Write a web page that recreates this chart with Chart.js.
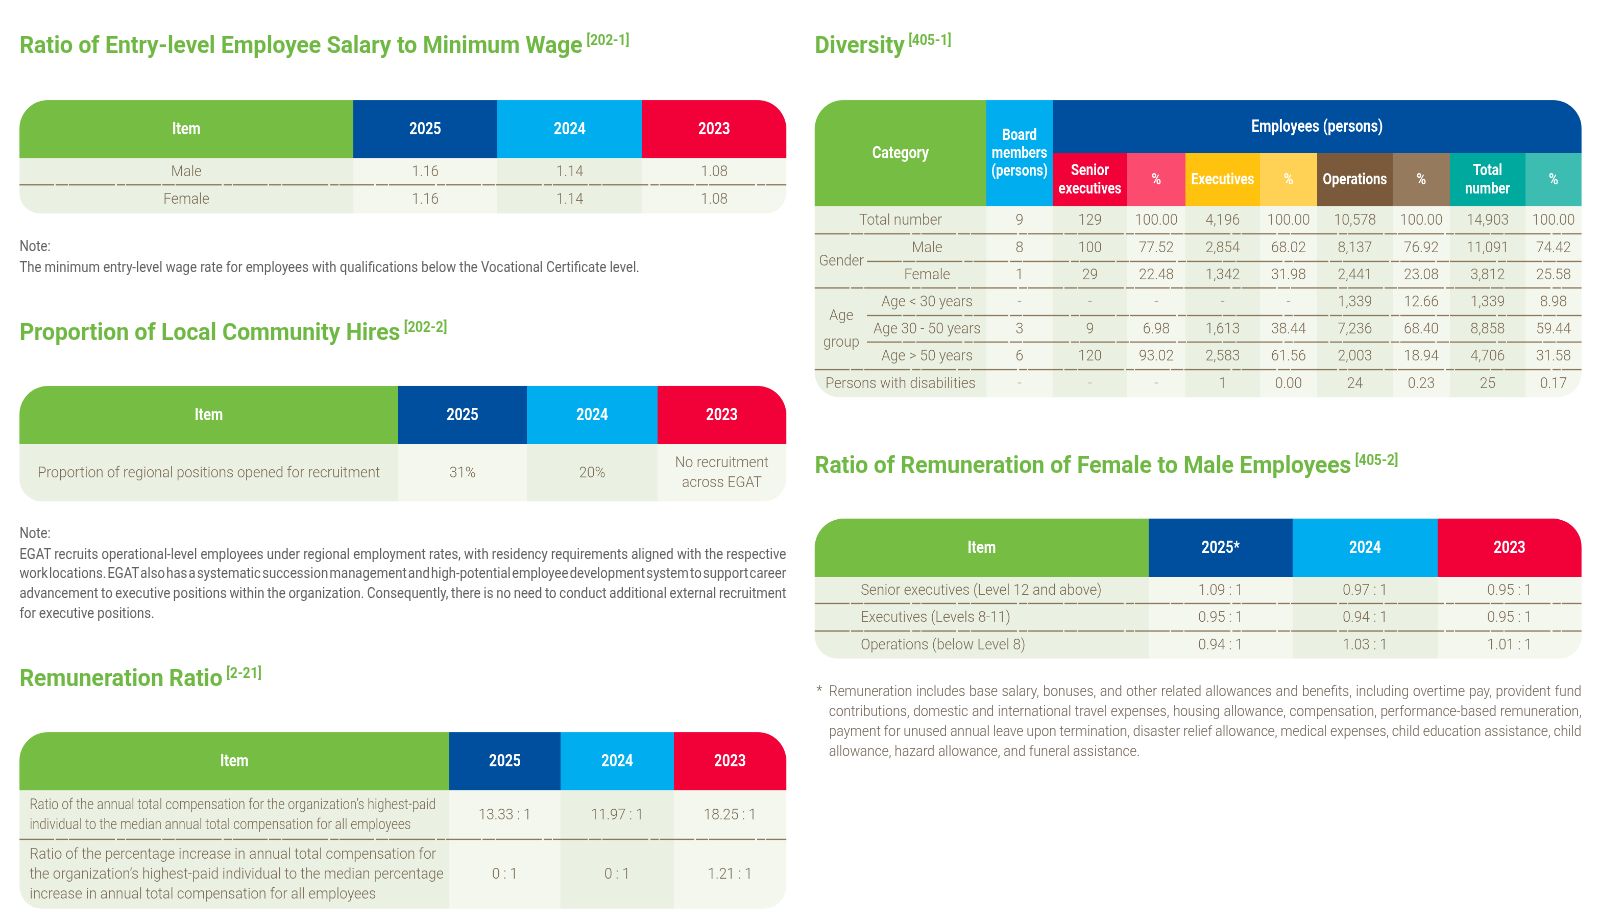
<!DOCTYPE html>
<html lang="en">
<head>
<meta charset="UTF-8">
<title>Employee Indicators</title>
<style>
    body {
        margin: 0;
        width: 1601px;
        height: 918px;
        position: relative;
        overflow: hidden;
        background: #fff;
        font-family: Roboto, 'Noto Sans', sans-serif;
    }
    /* page is laid out on a 1568 grid and scaled up to the window */
    #page {
        position: absolute;
        left: 0;
        top: 0;
        width: 1568px;
        height: 899px;
        transform: scale(1.02105);
        transform-origin: 0 0;
    }
    .title {
        position: absolute;
        font: 700 24px Roboto, sans-serif;
        line-height: 1;
        color: #70b844;
        white-space: nowrap;
        transform: scaleX(0.93);
        transform-origin: 0 0;
    }
    .title sup {
        font-size: 14px;
        vertical-align: top;
        position: relative;
        top: 0px;
        margin-left: 4px;
    }
    .note {
        position: absolute;
        font: 400 13.5px Roboto, sans-serif;
        line-height: 19.6px;
        color: #626262;
        transform: scaleX(0.95);
        transform-origin: 0 0;
    }
    .foot {
        position: absolute;
        font: 300 15px Roboto, sans-serif;
        line-height: 19.3px;
        color: #6e6152;
        transform: scaleX(0.88);
        transform-origin: 0 0;
    }
    .foot .star { position: absolute; left: -14px; top: 0; }
    .jl { display: inline-block; white-space: nowrap; }
    .tbl { position: absolute; }
</style>
<script src="https://cdn.jsdelivr.net/npm/chart.js@4.4.1/dist/chart.umd.min.js"></script>
</head>
<body>
<div id="page">

<div class="title" style="left:19px;top:32px">Ratio of Entry-level Employee Salary to Minimum Wage<sup>[202-1]</sup></div>
<div class="tbl" style="left:19px;top:98px;width:751px;height:111px"><canvas id="wageTable"></canvas></div>
<div class="note" style="left:19px;top:232px;width:790px">Note:<br>The minimum entry-level wage rate for employees with qualifications below the Vocational Certificate level.</div>

<div class="title" style="left:19px;top:313px">Proportion of Local Community Hires<sup>[202-2]</sup></div>
<div class="tbl" style="left:19px;top:378px;width:751px;height:113px"><canvas id="hireTable"></canvas></div>
<div class="note" style="left:19px;top:513px;width:790.5px">Note:<br><span class="jl">EGAT recruits operational-level employees under regional employment rates, with residency requirements aligned with the respective</span><br><span class="jl">work locations. EGAT also has a systematic succession management and high-potential employee development system to support career</span><br><span class="jl">advancement to executive positions within the organization. Consequently, there is no need to conduct additional external recruitment</span><br>for executive positions.</div>

<div class="title" style="left:19px;top:652px">Remuneration Ratio<sup>[2-21]</sup></div>
<div class="tbl" style="left:19px;top:717px;width:751px;height:173px"><canvas id="payTable"></canvas></div>

<div class="title" style="left:798px;top:32px">Diversity<sup>[405-1]</sup></div>
<div class="tbl" style="left:798px;top:98px;width:751px;height:291px"><canvas id="diversityTable"></canvas></div>

<div class="title" style="left:798px;top:443px">Ratio of Remuneration of Female to Male Employees<sup>[405-2]</sup></div>
<div class="tbl" style="left:798px;top:508px;width:751px;height:137px"><canvas id="genderPayTable"></canvas></div>
<div class="foot" style="left:812px;top:668px;width:837.5px"><span class="star">*</span><span class="jl">Remuneration includes base salary, bonuses, and other related allowances and benefits, including overtime pay, provident fund</span><br><span class="jl">contributions, domestic and international travel expenses, housing allowance, compensation, performance-based remuneration,</span><br><span class="jl">payment for unused annual leave upon termination, disaster relief allowance, medical expenses, child education assistance, child</span><br>allowance, hazard allowance, and funeral assistance.</div>

</div>

<script>
// ---- data ----
const years = ['2025', '2024', '2023'];

// [202-1] entry-level salary / minimum wage
const wageItems = ['Male', 'Female'];
const wage2025 = [1.16, 1.16];
const wage2024 = [1.14, 1.14];
const wage2023 = [1.08, 1.08];

// [202-2] local community hires
const hireItems = ['Proportion of regional positions opened for recruitment'];
const hire2025 = ['31%'];
const hire2024 = ['20%'];
const hire2023 = ['No recruitment\nacross EGAT'];

// [2-21] remuneration ratio
const payItems = [
    'Ratio of the annual total compensation for the organization\u2019s highest-paid\nindividual to the median annual total compensation for all employees',
    'Ratio of the percentage increase in annual total compensation for\nthe organization\u2019s highest-paid individual to the median percentage\nincrease in annual total compensation for all employees'
];
const pay2025 = ['13.33 : 1', '0 : 1'];
const pay2024 = ['11.97 : 1', '0 : 1'];
const pay2023 = ['18.25 : 1', '1.21 : 1'];

// [405-1] diversity (null = "-")
const diversityRows = ['Total number', 'Male', 'Female', 'Age < 30 years', 'Age 30 - 50 years', 'Age > 50 years', 'Persons with disabilities'];
const boardMembers   = [9, 8, 1, null, 3, 6, null];
const seniorExec     = [129, 100, 29, null, 9, 120, null];
const seniorExecPct  = [100.00, 77.52, 22.48, null, 6.98, 93.02, null];
const executives     = [4196, 2854, 1342, null, 1613, 2583, 1];
const executivesPct  = [100.00, 68.02, 31.98, null, 38.44, 61.56, 0.00];
const operations     = [10578, 8137, 2441, 1339, 7236, 2003, 24];
const operationsPct  = [100.00, 76.92, 23.08, 12.66, 68.40, 18.94, 0.23];
const totalEmployees = [14903, 11091, 3812, 1339, 8858, 4706, 25];
const totalPct       = [100.00, 74.42, 25.58, 8.98, 59.44, 31.58, 0.17];

// [405-2] female to male remuneration
const genderPayItems = ['Senior executives (Level 12 and above)', 'Executives (Levels 8-11)', 'Operations (below Level 8)'];
const genderPay2025 = ['1.09 : 1', '0.95 : 1', '0.94 : 1'];
const genderPay2024 = ['0.97 : 1', '0.94 : 1', '1.03 : 1'];
const genderPay2023 = ['0.95 : 1', '0.95 : 1', '1.01 : 1'];

// ---- styling ----
const GREEN = '#75bd43', DBLUE = '#004f9f', LBLUE = '#00aeef', RED = '#f20038';
const BODY_DARK = '#eaf1e2', BODY_LIGHT = '#f3f7ee';
const INK = '#7d6c56', DASH_INK = '#aaa294';
const HEAD_FONT = '700 17px Roboto';
const BODY_FONT = '300 15px Roboto';

const fmtRatio = v => v.toFixed(2);
const fmtInt = v => v == null ? '-' : v.toLocaleString('en-US');
const fmtPct = v => v == null ? '-' : v.toFixed(2);

function drawText(ctx, str, x, y, font, color, align, squeeze) {
    ctx.save();
    ctx.font = font;
    ctx.fillStyle = color;
    ctx.textBaseline = 'middle';
    ctx.textAlign = align;
    ctx.translate(x, y);
    ctx.scale(squeeze, 1);
    ctx.fillText(str, 0, 0);
    ctx.restore();
}

// draws the cells of a table through the chart's x / y scales
function cellPlugin(spec) {
    return {
        id: 'tableCells',
        afterDraw(chart) {
            const ctx = chart.ctx;
            const X = i => chart.scales.x.getPixelForValue(spec.colEdges[i]);
            const Y = i => chart.scales.y.getPixelForValue(spec.rowEdges[i]);
            const nc = spec.colEdges.length - 1, nr = spec.rowEdges.length - 1;

            ctx.save();
            ctx.beginPath();
            ctx.roundRect(X(0), Y(0), X(nc) - X(0), Y(nr) - Y(0), spec.radii);
            ctx.clip();

            spec.cells.forEach(c => {
                const x0 = X(c.c[0]), x1 = X(c.c[1]), y0 = Y(c.r[0]), y1 = Y(c.r[1]);
                ctx.fillStyle = c.fill;
                ctx.fillRect(x0, y0, x1 - x0 + 0.6, y1 - y0 + 0.6);
            });

            ctx.strokeStyle = 'rgba(122, 98, 68, 0.85)';
            ctx.lineWidth = 1.3;
            ctx.setLineDash([34, 1.5, 12, 1, 45, 2, 8, 1]);
            spec.seps.forEach(s => {
                const y = Y(s.r);
                ctx.beginPath();
                ctx.moveTo(X(s.c[0]) + (s.dx || 0), y);
                ctx.lineTo(X(s.c[1]), y);
                ctx.stroke();
            });
            ctx.setLineDash([]);

            spec.cells.forEach(c => {
                if (c.text == null) return;
                const x0 = X(c.c[0]), x1 = X(c.c[1]), y0 = Y(c.r[0]), y1 = Y(c.r[1]);
                const lines = String(c.text).split('\n');
                const font = c.font || (c.head ? HEAD_FONT : BODY_FONT);
                const squeeze = c.squeeze || (c.head ? 0.8 : 0.93);
                const lh = c.lh || (c.head ? 18 : 19.5);
                const color = c.color || (c.head ? '#fff' : (c.text === '-' ? DASH_INK : INK));
                const align = c.align || 'center';
                const tx = align === 'left' ? x0 + c.pad : (x0 + x1) / 2;
                const cy = (y0 + y1) / 2 + 0.5;
                lines.forEach((ln, k) => {
                    drawText(ctx, ln, tx, cy + (k - (lines.length - 1) / 2) * lh, font, color, align, squeeze);
                });
            });
            ctx.restore();
        }
    };
}

function tableChart(id, spec) {
    const nc = spec.colEdges.length - 1, nr = spec.rowEdges.length - 1;
    return new Chart(document.getElementById(id), {
        type: 'scatter',
        data: { datasets: [] },
        options: {
            responsive: true,
            maintainAspectRatio: false,
            animation: false,
            devicePixelRatio: 2,
            events: [],
            layout: { padding: 0 },
            scales: {
                x: { type: 'linear', display: false, min: 0, max: spec.colEdges[nc] },
                y: { type: 'linear', display: false, reverse: true, min: 0, max: spec.rowEdges[nr] }
            },
            plugins: { legend: { display: false }, tooltip: { enabled: false } }
        },
        plugins: [cellPlugin(spec)]
    });
}

// Item | 2025 | 2024 | 2023 style tables
function yearTable(id, layout, items, series, heads) {
    const cells = [];
    const headFill = [GREEN, DBLUE, LBLUE, RED];
    ['Item'].concat(heads).forEach((h, i) => {
        cells.push({ c: [i, i + 1], r: [0, 1], fill: headFill[i], text: h, head: true });
    });
    items.forEach((it, j) => {
        cells.push({
            c: [0, 1], r: [j + 1, j + 2], fill: BODY_DARK, text: it,
            align: layout.itemAlign, pad: layout.pad,
            squeeze: layout.itemSqueeze ? layout.itemSqueeze[j] : undefined
        });
        series.forEach((s, i) => {
            cells.push({ c: [i + 1, i + 2], r: [j + 1, j + 2], fill: i % 2 ? BODY_DARK : BODY_LIGHT, text: s[j] });
        });
    });
    const seps = [];
    for (let j = 1; j < items.length; j++) seps.push({ r: j + 1, c: [0, 4] });
    return tableChart(id, {
        colEdges: layout.colEdges,
        rowEdges: layout.rowEdges,
        radii: layout.radii,
        cells, seps
    });
}

yearTable('wageTable',
    { colEdges: [0, 327, 468, 610, 751], rowEdges: [0, 57, 83, 111], radii: [28, 28, 20, 20], itemAlign: 'center' },
    wageItems, [wage2025.map(fmtRatio), wage2024.map(fmtRatio), wage2023.map(fmtRatio)], years);

yearTable('hireTable',
    { colEdges: [0, 371, 497, 625, 751], rowEdges: [0, 57, 113], radii: [28, 28, 22, 22], itemAlign: 'center' },
    hireItems, [hire2025, hire2024, hire2023], years);

yearTable('payTable',
    { colEdges: [0, 421, 530, 641, 751], rowEdges: [0, 57, 105, 173], radii: [28, 28, 22, 22], itemAlign: 'left', pad: 10, itemSqueeze: [0.83, 0.93] },
    payItems, [pay2025, pay2024, pay2023], years);

yearTable('genderPayTable',
    { colEdges: [0, 327, 468, 610, 751], rowEdges: [0, 57, 83, 110, 137], radii: [28, 28, 22, 22], itemAlign: 'left', pad: 45 },
    genderPayItems, [genderPay2025, genderPay2024, genderPay2023], ['2025*', '2024', '2023']);

// diversity table
(function () {
    const cells = [];
    const small = '700 16px Roboto';
    cells.push({ c: [0, 2], r: [0, 2], fill: GREEN, text: 'Category', head: true });
    cells.push({ c: [2, 3], r: [0, 2], fill: LBLUE, text: 'Board\nmembers\n(persons)', head: true, font: small, lh: 17.5 });
    cells.push({ c: [3, 11], r: [0, 1], fill: DBLUE, text: 'Employees (persons)', head: true });
    const subHeads = ['Senior\nexecutives', '%', 'Executives', '%', 'Operations', '%', 'Total\nnumber', '%'];
    const subFills = ['#f20038', '#fb4c70', '#ffc20e', '#ffd255', '#7a5a3a', '#967a5e', '#00a99d', '#3dbcb2'];
    subHeads.forEach((h, i) => {
        cells.push({ c: [i + 3, i + 4], r: [1, 2], fill: subFills[i], text: h, head: true, font: small, lh: 18 });
    });

    const series = [boardMembers.map(fmtInt), seniorExec.map(fmtInt), seniorExecPct.map(fmtPct),
        executives.map(fmtInt), executivesPct.map(fmtPct), operations.map(fmtInt), operationsPct.map(fmtPct),
        totalEmployees.map(fmtInt), totalPct.map(fmtPct)];

    // category column: group labels + row labels
    cells.push({ c: [0, 1], r: [3, 5], fill: BODY_DARK, text: 'Gender' });
    cells.push({ c: [0, 1], r: [5, 8], fill: BODY_DARK, text: 'Age\ngroup', lh: 26 });
    diversityRows.forEach((label, j) => {
        const r = [j + 2, j + 3];
        const full = (j === 0 || j === diversityRows.length - 1);
        cells.push({ c: full ? [0, 2] : [1, 2], r, fill: BODY_DARK, text: label });
        series.forEach((s, i) => {
            cells.push({ c: [i + 2, i + 3], r, fill: i % 2 ? BODY_DARK : BODY_LIGHT, text: s[j] });
        });
    });

    const seps = [
        { r: 3, c: [0, 11] }, { r: 4, c: [1, 11], dx: -1 }, { r: 5, c: [0, 11] },
        { r: 6, c: [1, 11], dx: -1 }, { r: 7, c: [1, 11], dx: -1 }, { r: 8, c: [0, 11] }
    ];

    tableChart('diversityTable', {
        colEdges: [0, 52, 168, 233, 306, 363, 436, 492, 566, 622, 696, 751],
        rowEdges: [0, 52, 104, 131, 158, 184, 211, 237, 264, 291],
        radii: [28, 28, 24, 24],
        cells, seps
    });
})();

// stretch each justified note line to the full text width
function justifyLines() {
    document.querySelectorAll('.jl').forEach(el => {
        el.style.wordSpacing = '0px';
        const target = el.parentElement.clientWidth;
        const spaces = el.textContent.split(' ').length - 1;
        const natural = el.getBoundingClientRect().width / (el.parentElement.getBoundingClientRect().width / target);
        el.style.wordSpacing = ((target - natural) / spaces) + 'px';
    });
}
justifyLines();
document.fonts.ready.then(justifyLines);
</script>
</body>
</html>
